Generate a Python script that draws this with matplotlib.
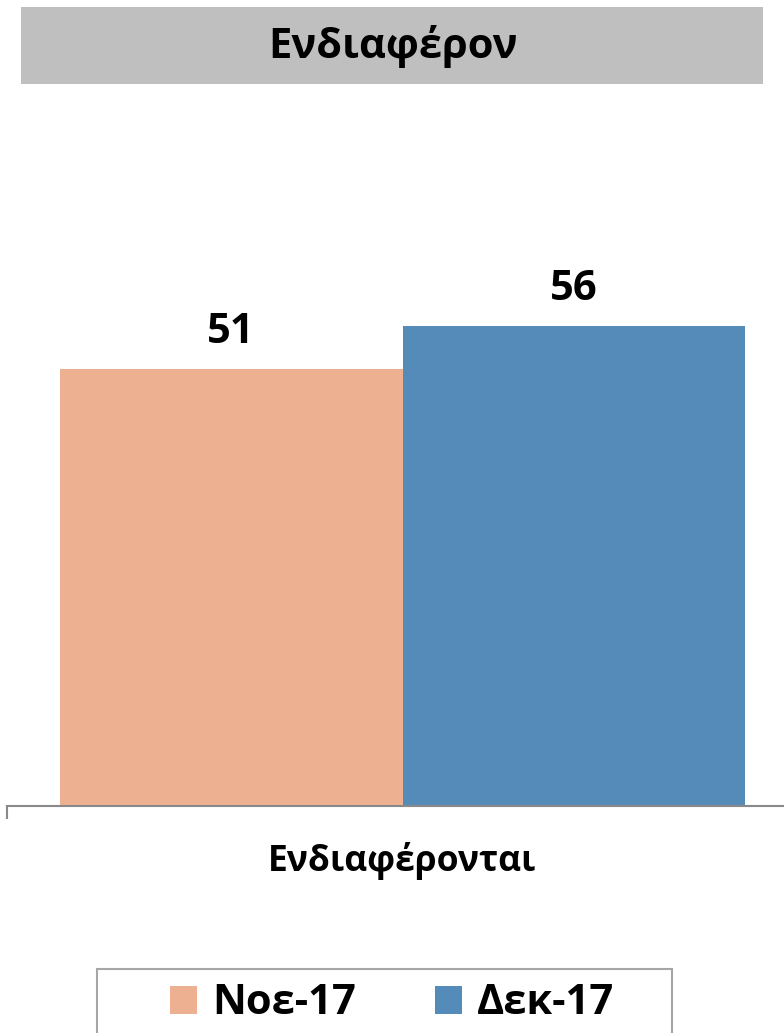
import matplotlib
matplotlib.use('Agg')
import matplotlib.pyplot as plt
from matplotlib.patches import Rectangle

plt.rcParams['font.family'] = ['Open Sans', 'DejaVu Sans']

# data
title = 'Ενδιαφέρον'
category = 'Ενδιαφέρονται'
series = ['Νοε-17', 'Δεκ-17']
values = [51, 56]
colors = ['#EDB192', '#558BB9']

W, H = 784, 1033
fig = plt.figure(figsize=(W / 100, H / 100), dpi=100)

# grey title band
fig.patches.append(Rectangle((21 / W, 1 - 84 / H), (763 - 21) / W, (84 - 7) / H,
                             transform=fig.transFigure, facecolor='#BFBFBF', edgecolor='none'))
fig.text(393 / W, 1 - 46 / H, title, ha='center', va='center', fontsize=30, fontweight='bold')

ax = fig.add_axes([7 / W, 1 - 805.5 / H, (798 - 7) / W, (805.5 - 110) / H])
bar_w = 0.433
offsets = [-bar_w / 2, bar_w / 2]
for name, v, c, off in zip(series, values, colors, offsets):
    ax.bar(off, v, width=bar_w, color=c, label=name)
    ax.annotate(str(v), (off, v), xytext=(0, 19), textcoords='offset points',
                ha='center', va='baseline', fontsize=30, fontweight='bold')

ax.set_xlim(-0.5, 0.5)
ax.set_ylim(0, 81.3)
for s in ['left', 'right', 'top']:
    ax.spines[s].set_visible(False)
ax.spines['bottom'].set_color('#898989')
ax.spines['bottom'].set_linewidth(1.5)
ax.set_yticks([])
ax.set_xticks([0])
ax.set_xticklabels([category], fontsize=25.5, fontweight='bold')
ax.tick_params(axis='x', which='major', length=0, pad=26)
ax.set_xticks([-0.5], minor=True)
ax.tick_params(axis='x', which='minor', length=9, width=1.5, color='#898989')

# legend with its own frame
fig.patches.append(Rectangle((97 / W, 1 - 1045 / H), (672 - 97) / W, (1045 - 969) / H,
                             transform=fig.transFigure, facecolor='none',
                             edgecolor='#A6A6A6', linewidth=1.5))
leg = fig.legend(loc='center', bbox_to_anchor=(392 / W, 1 - 1004 / H), ncol=2, frameon=False,
                 prop={'size': 30, 'weight': 'bold'}, handlelength=0.65, handleheight=0.65,
                 handletextpad=0.35, columnspacing=1.9)

fig.savefig('out.png', dpi=100)
